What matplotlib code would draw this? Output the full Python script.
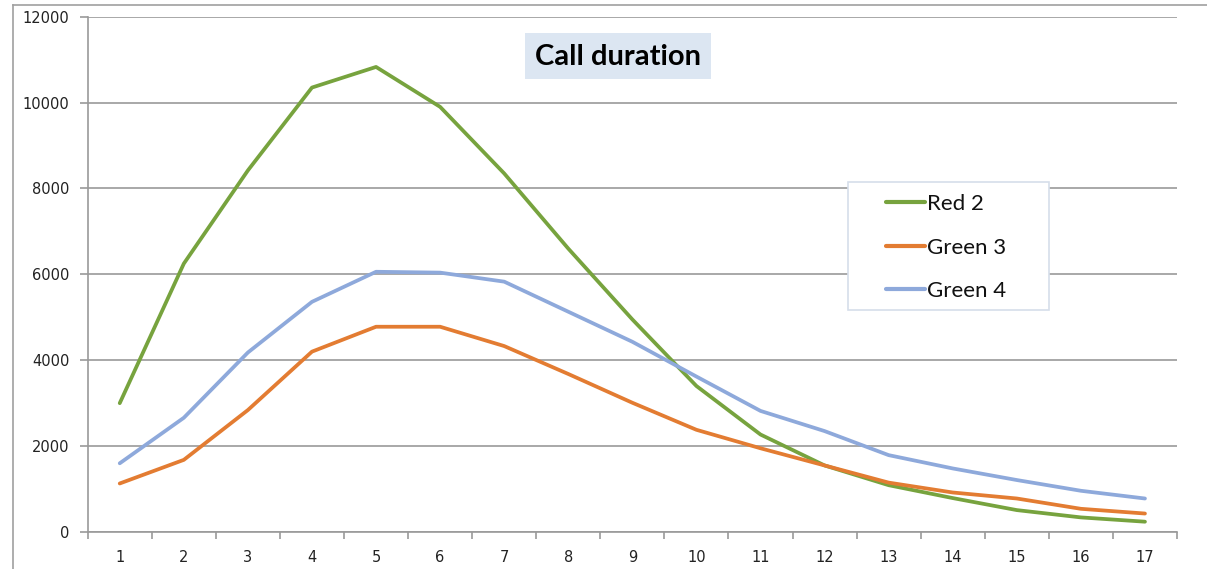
import matplotlib
matplotlib.use("Agg")
import matplotlib.pyplot as plt
from matplotlib.patches import Rectangle
from matplotlib.lines import Line2D
from matplotlib.ticker import FixedLocator, NullFormatter

categories = [str(i) for i in range(1, 18)]
red2 = [3000, 6250, 8420, 10350, 10830, 9900, 8350, 6600, 4950, 3400, 2270, 1550, 1090, 790, 510, 340, 240]
green3 = [1130, 1680, 2840, 4200, 4780, 4780, 4330, 3680, 3010, 2380, 1950, 1550, 1150, 920, 780, 540, 430]
green4 = [1600, 2660, 4180, 5360, 6060, 6040, 5830, 5130, 4430, 3620, 2820, 2350, 1790, 1480, 1210, 960, 780]
series_names = ["Red 2", "Green 3", "Green 4"]
colors = ["#77A33E", "#E37C32", "#8EA9DB"]
y_ticks = [0, 2000, 4000, 6000, 8000, 10000, 12000]

W, H = 1207, 569
fig = plt.figure(figsize=(W / 100, H / 100), dpi=100)
fig.patch.set_facecolor("white")

left, right, bottom, top = 87.7, 1177, 532, 16.7
ax = fig.add_axes([left / W, 1 - bottom / H, (right - left) / W, (bottom - top) / H])

x = list(range(len(categories)))
for vals, name, c in zip([red2, green3, green4], series_names, colors):
    ax.plot(x, vals, color=c, lw=2.7, label=name, solid_capstyle="round", solid_joinstyle="round", zorder=3)

ax.set_xlim(-0.5, len(categories) - 0.5)
ax.set_ylim(0, 12000)

ax.set_yticks(y_ticks)
ax.set_yticklabels([str(v) for v in y_ticks])
ax.yaxis.grid(True, color="#9A9A9A", lw=1.2)
ax.set_axisbelow(True)

# category boundaries as major ticks, labels on minor ticks at centres
ax.xaxis.set_major_locator(FixedLocator([i - 0.5 for i in range(len(categories) + 1)]))
ax.xaxis.set_major_formatter(NullFormatter())
ax.xaxis.set_minor_locator(FixedLocator(x))
ax.set_xticklabels(categories, minor=True)
ax.tick_params(axis="x", which="major", length=5, width=1.2, color="#9A9A9A")
ax.tick_params(axis="x", which="minor", length=0, pad=13, labelsize=10.5, labelcolor="#222222")
ax.tick_params(axis="y", length=6, width=1.2, color="#9A9A9A", pad=7, labelsize=10.5, labelcolor="#222222")

for s in ["top", "right"]:
    ax.spines[s].set_visible(False)
for s in ["left", "bottom"]:
    ax.spines[s].set_color("#9A9A9A")
    ax.spines[s].set_linewidth(1.2)

# outer chart border (left and top edges visible)
fig.add_artist(Line2D([13 / W, 13 / W], [0, 1 - 5 / H], transform=fig.transFigure, color="#A0A0A0", lw=1.2))
fig.add_artist(Line2D([13 / W, 1], [1 - 5 / H, 1 - 5 / H], transform=fig.transFigure, color="#A0A0A0", lw=1.2))

# title with shaded box
tx0, tx1, ty0, ty1 = 525, 711, 33, 79
fig.add_artist(Rectangle((tx0 / W, 1 - ty1 / H), (tx1 - tx0) / W, (ty1 - ty0) / H,
                         transform=fig.transFigure, facecolor="#DCE6F2", edgecolor="none", zorder=5))
fig.text((tx0 + tx1) / 2 / W, 1 - 57 / H, "Call duration", ha="center", va="center",
         fontsize=21, fontweight="bold", family="Lato", color="black", zorder=6)

# legend box
lx0, lx1, ly0, ly1 = 848, 1049, 182, 310
fig.add_artist(Rectangle((lx0 / W, 1 - ly1 / H), (lx1 - lx0) / W, (ly1 - ly0) / H,
                         transform=fig.transFigure, facecolor="white", edgecolor="#D6DEEA", lw=1.2, zorder=5))
leg = fig.legend(loc="upper left", bbox_to_anchor=(886 / W, 1 - 194 / H), frameon=False,
                 prop={"family": "Lato", "size": 16}, handlelength=1.75, handletextpad=0.1,
                 labelspacing=1.06, borderpad=0, borderaxespad=0)
leg.set_zorder(6)
for t in leg.get_texts():
    t.set_color("#111111")
for l in leg.get_lines():
    l.set_linewidth(3)

fig.savefig("out.png", dpi=100)
